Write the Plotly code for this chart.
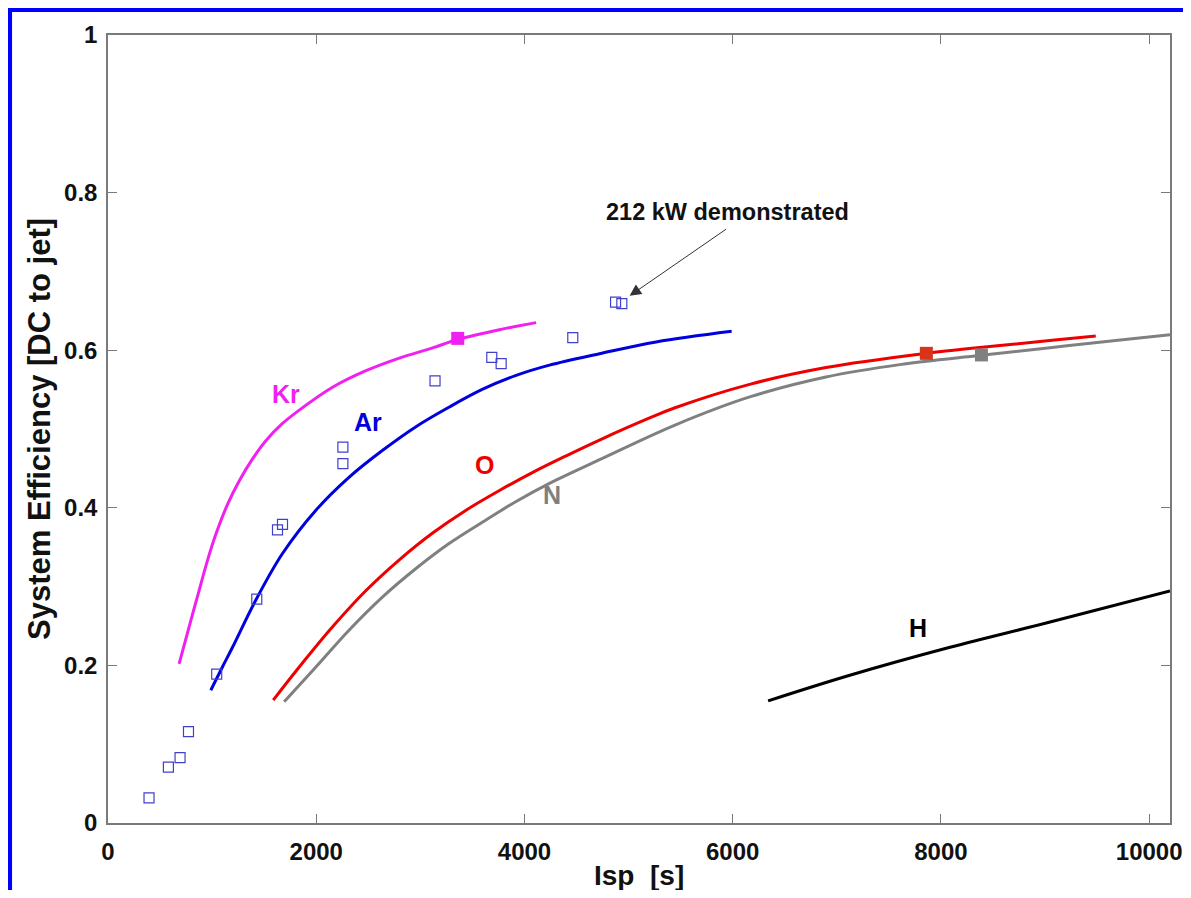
import plotly.graph_objects as go

# ---- data ----
kr_x = [683, 779, 875, 955, 1035, 1147, 1260, 1388, 1516, 1676, 1837, 2157, 2478, 2798, 3118, 3359, 3760, 4112]
kr_y = [0.202, 0.249, 0.295, 0.333, 0.366, 0.404, 0.434, 0.462, 0.485, 0.507, 0.524, 0.553, 0.574, 0.590, 0.603, 0.6135, 0.626, 0.635]

ar_x = [987, 1099, 1196, 1420, 1676, 1997, 2317, 2638, 2958, 3279, 3599, 3920, 4240, 4721, 5264, 5990]
ar_y = [0.1685, 0.198, 0.223, 0.283, 0.342, 0.397, 0.439, 0.473, 0.503, 0.528, 0.5505, 0.568, 0.581, 0.5955, 0.6105, 0.624]

o_x = [1587, 1837, 2157, 2478, 2798, 3118, 3439, 3760, 4080, 4401, 4721, 5202, 5446, 6171, 6896, 7860, 8346, 9068, 9487]
o_y = [0.156, 0.198, 0.249, 0.295, 0.334, 0.368, 0.397, 0.422, 0.445, 0.466, 0.486, 0.514, 0.527, 0.557, 0.578, 0.596, 0.603, 0.6125, 0.618]

n_x = [1692, 1997, 2317, 2638, 2958, 3279, 3599, 3920, 4240, 4721, 5446, 6171, 6896, 7620, 8389, 9068, 9700, 10200]
n_y = [0.154, 0.198, 0.245, 0.287, 0.323, 0.355, 0.382, 0.408, 0.431, 0.461, 0.505, 0.541, 0.566, 0.582, 0.5935, 0.6035, 0.6125, 0.6195]

h_x = [6340, 7125, 8087, 9048, 10200]
h_y = [0.155, 0.1875, 0.223, 0.255, 0.2945]

# design points (filled squares)
kr_pt = (3359, 0.615)
o_pt = (7860, 0.596)
n_pt = (8389, 0.594)

# measured data (open squares)
meas_x = [394, 580, 692, 773, 1044, 1429, 1628, 1676, 2256, 2256, 3141, 3686, 3776, 4464, 4875, 4935]
meas_y = [0.032, 0.071, 0.083, 0.116, 0.189, 0.284, 0.372, 0.379, 0.477, 0.456, 0.561, 0.591, 0.583, 0.616, 0.661, 0.659]

x_ticks = [0, 2000, 4000, 6000, 8000, 10000]
x_tick_text = ["0", "2000", "4000", "6000", "8000", "10000"]
y_ticks = [0, 0.2, 0.4, 0.6, 0.8, 1]
y_tick_text = ["0", "0.2", "0.4", "0.6", "0.8", "1"]

labels = [("Kr", 1712, 0.545, "#f020f0"),
          ("Ar", 2493, 0.509, "#0000dd"),
          ("O", 3615, 0.454, "#ee0000"),
          ("N", 4263, 0.416, "#808080"),
          ("H", 7781, 0.247, "#000000")]

FONT = "Liberation Sans, Arial, Helvetica, sans-serif"

fig = go.Figure()

def curve(x, y, color):
    fig.add_trace(go.Scatter(x=x, y=y, mode="lines",
                             line=dict(color=color, width=3, shape="spline", smoothing=1.0),
                             hoverinfo="skip", showlegend=False))

curve(kr_x, kr_y, "#f020f0")
curve(ar_x, ar_y, "#0000dd")
curve(o_x, o_y, "#ee0000")
curve(n_x, n_y, "#808080")
curve(h_x, h_y, "#000000")

fig.add_trace(go.Scatter(x=meas_x, y=meas_y, mode="markers",
                         marker=dict(symbol="square-open", size=10, color="#4040cc", line=dict(width=1.2)),
                         showlegend=False))

for (px, py), col in [(kr_pt, "#f020f0"), (o_pt, "#d8341a"), (n_pt, "#808080")]:
    fig.add_trace(go.Scatter(x=[px], y=[py], mode="markers",
                             marker=dict(symbol="square", size=13, color=col),
                             showlegend=False))

for txt, lx, ly, col in labels:
    fig.add_annotation(x=lx, y=ly, text=txt, showarrow=False,
                       font=dict(family=FONT, size=25, color=col, weight="bold"),
                       xanchor="center", yanchor="middle")

# "212 kW demonstrated" text and arrow
fig.add_annotation(x=5950, y=0.775, text="212 kW demonstrated", showarrow=False,
                   font=dict(family=FONT, size=23.5, color="#111111", weight="bold"),
                   xanchor="center", yanchor="middle")
fig.add_annotation(x=5010, y=0.669, ax=5952, ay=0.755, axref="x", ayref="y",
                   text="", showarrow=True, arrowhead=2, arrowsize=2.3, arrowwidth=1,
                   arrowcolor="#333333")

# axis titles
fig.add_annotation(xref="paper", yref="paper", x=0.5, y=-0.066,
                   text="Isp\u00a0\u00a0[s]", showarrow=False,
                   font=dict(family=FONT, size=28, color="#111111", weight="bold"),
                   xanchor="center", yanchor="middle")
fig.add_annotation(xref="paper", yref="paper", x=-0.065, y=0.5, textangle=-90,
                   text="System Efficiency [DC to jet]", showarrow=False,
                   font=dict(family=FONT, size=31, color="#111111", weight="bold"),
                   xanchor="center", yanchor="middle")

# blue frame (top and left)
fig.add_shape(type="line", xref="paper", yref="paper",
              x0=-0.11, x1=1.03, y0=1.0324, y1=1.0324,
              line=dict(color="#0000ff", width=5))
fig.add_shape(type="line", xref="paper", yref="paper",
              x0=-0.0927, x1=-0.0927, y0=1.036, y1=-0.12,
              line=dict(color="#0000ff", width=5))

axis_common = dict(showgrid=False, zeroline=False, showline=True, linecolor="#7a7a7a",
                   linewidth=1.5, mirror="ticks", ticks="inside", ticklen=9,
                   tickcolor="#7a7a7a", tickwidth=1.2,
                   tickfont=dict(family=FONT, size=24, color="#111111", weight="bold"))

fig.update_xaxes(range=[0, 10200], tickvals=x_ticks, ticktext=x_tick_text,
                 ticklabelstandoff=6, **axis_common)
fig.update_yaxes(range=[0, 1], tickvals=y_ticks, ticktext=y_tick_text,
                 ticklabelstandoff=4, **axis_common)

# page body adds an 8 px margin, so the figure is 16 px smaller than the window
fig.update_layout(width=1175, height=882,
                  margin=dict(l=100, r=13, t=27, b=67, autoexpand=False),
                  paper_bgcolor="white", plot_bgcolor="white",
                  showlegend=False)

fig.write_html("out.html")
